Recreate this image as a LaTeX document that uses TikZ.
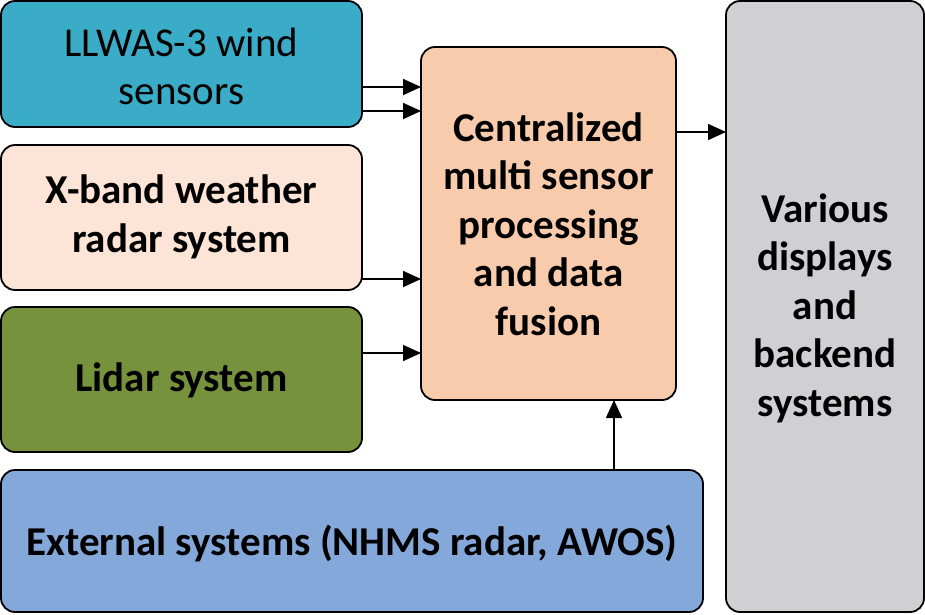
\documentclass[tikz,border=0pt]{standalone}
\usepackage{fontspec}
\setmainfont{Carlito}
\usetikzlibrary{arrows.meta}
\definecolor{cllwas}{HTML}{3BACC8}
\definecolor{cxband}{HTML}{FCE4D6}
\definecolor{clidar}{HTML}{76923C}
\definecolor{ccentral}{HTML}{F8CBAD}
\definecolor{cvarious}{HTML}{D0D0D3}
\definecolor{cext}{HTML}{85A8DA}
\tikzset{
  blk/.style={draw=black, line width=1.8pt, rounded corners=14pt},
  txt/.style={align=center, font=\fontsize{41}{48.5}\selectfont\bfseries, inner sep=0pt},
  arr/.style={line width=1.6pt, -{Triangle[length=18pt,width=16pt]}}
}
\begin{document}
\begin{tikzpicture}[x=1pt,y=-1pt]
\useasboundingbox (0,0) rectangle (925,614);
\draw[blk, fill=cllwas] (1,1) rectangle (362,127);
\node[txt, font=\fontsize{41}{48}\selectfont] (llwas) at (181.5,66) {LLWAS-3 wind\\sensors};
\draw[blk, fill=cxband] (1,145) rectangle (362,290);
\node[txt] (xband) at (181.5,217) {X-band weather\\radar system};
\draw[blk, fill=clidar] (1,307) rectangle (362,452);
\node[txt] (lidar) at (181.5,380) {Lidar system};
\draw[blk, fill=ccentral] (421,47) rectangle (676,400);
\node[txt] (central) at (548.5,224) {Centralized\\multi sensor\\processing\\and data\\fusion};
\draw[blk, fill=cvarious] (726,1) rectangle (924,612);
\node[txt] (various) at (825,308) {Various\\displays\\and\\backend\\systems};
\draw[blk, fill=cext] (1,470) rectangle (703,612);
\node[txt] (ext) at (352,543) {External systems (NHMS radar, AWOS)};
\coordinate (a1s) at (362,87); \coordinate (a1e) at (421,87);
\coordinate (a2s) at (362,111); \coordinate (a2e) at (421,111);
\coordinate (a3s) at (362,279); \coordinate (a3e) at (421,279);
\coordinate (a4s) at (362,353); \coordinate (a4e) at (421,353);
\coordinate (a5s) at (676,132); \coordinate (a5e) at (726,132);
\coordinate (a6s) at (614,470); \coordinate (a6e) at (614,400);
\draw[arr] (a1s) -- (a1e);
\draw[arr] (a2s) -- (a2e);
\draw[arr] (a3s) -- (a3e);
\draw[arr] (a4s) -- (a4e);
\draw[arr] (a5s) -- (a5e);
\draw[arr] (a6s) -- (a6e);
\end{tikzpicture}
\end{document}
